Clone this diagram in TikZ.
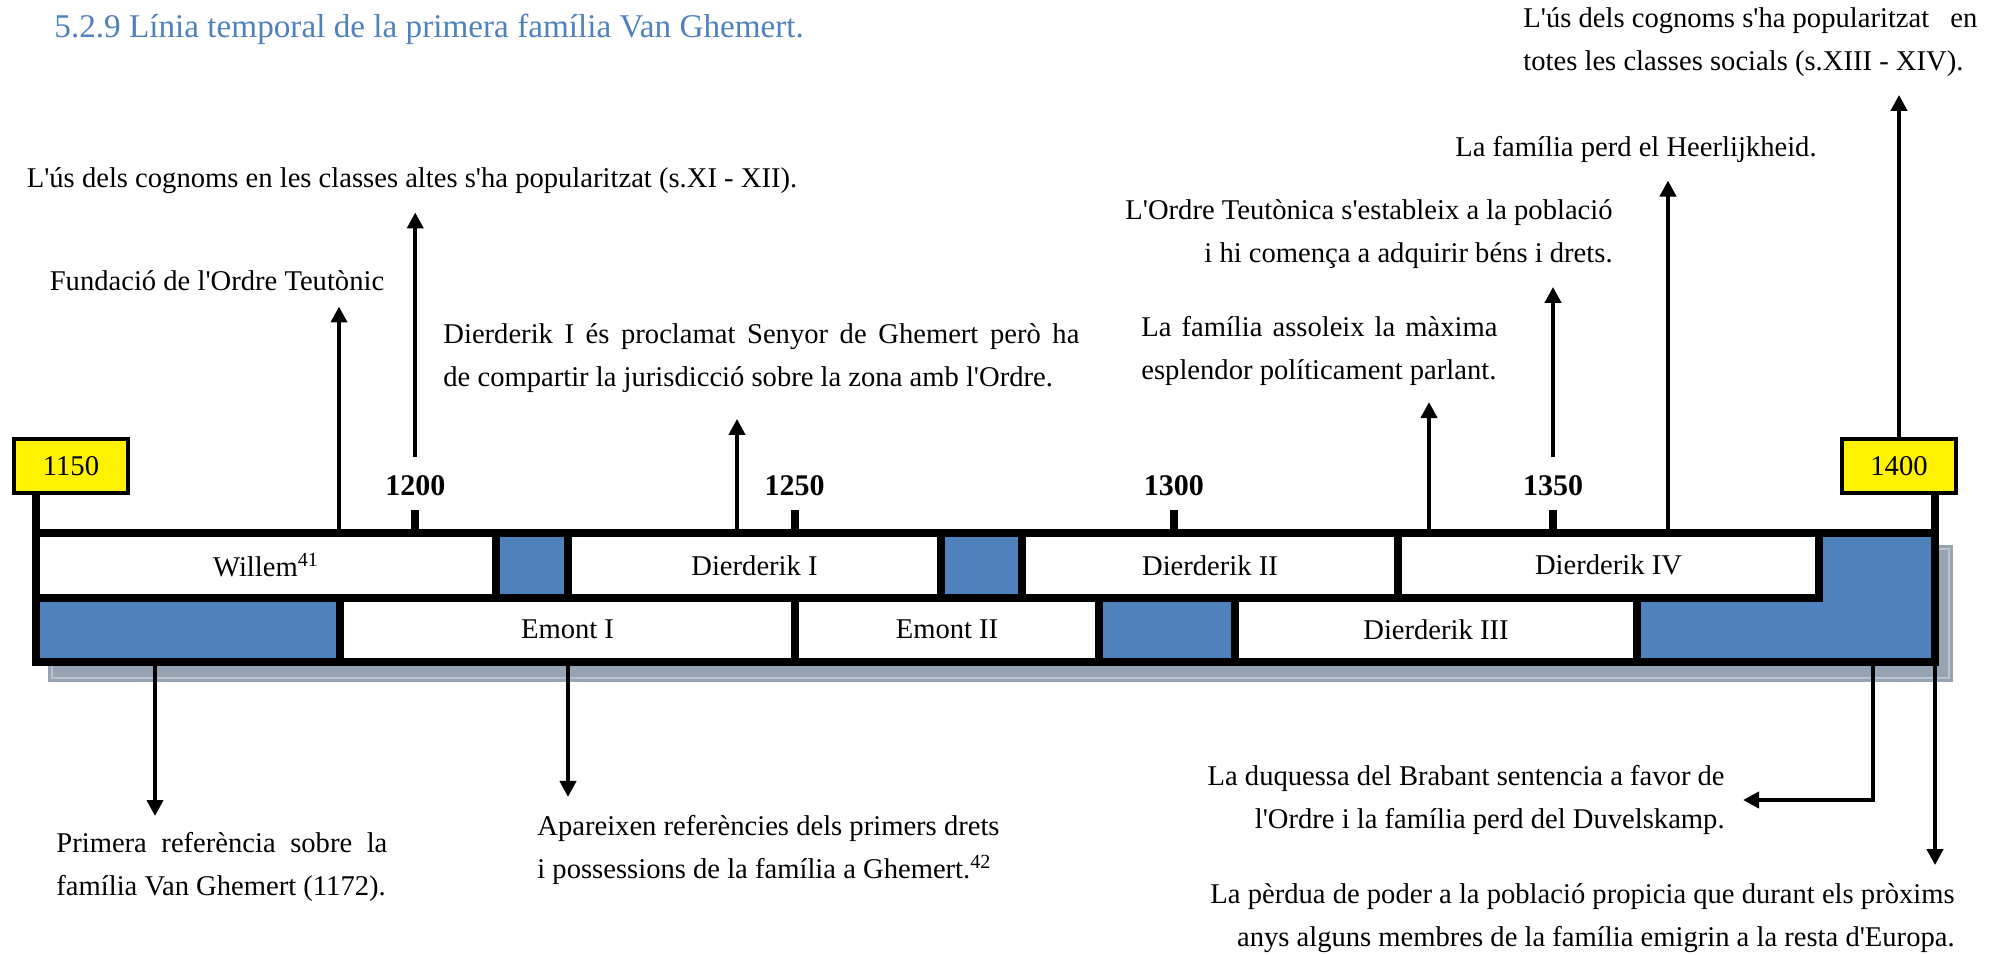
\documentclass[tikz,border=0pt]{standalone}
\usepackage{fontspec}
\setmainfont{Liberation Serif}[Ligatures=TeXOff]
\usepackage{tikz}
\usetikzlibrary{arrows.meta}
\usepackage{xcolor}
\definecolor{cellblue}{RGB}{79,129,189}
\definecolor{shadowgrey}{RGB}{149,163,179}
\newcommand{\evfont}{\fontsize{14.3pt}{21.5pt}\selectfont}

\begin{document}
\begin{tikzpicture}[x=0.5pt, y=-0.5pt,
    ev/.style={inner sep=0pt, font=\evfont},
    arr/.style={line width=2.2pt, shorten >=9pt, -{Triangle[length=8pt,width=8pt]}},
    barline/.style={line width=4pt, line cap=rect},
    yearbox/.style={draw, line width=2pt, fill=yellow, minimum width=57pt, minimum height=27pt, inner sep=0pt, font=\evfont}]
  \useasboundingbox (0,0) rectangle (2003,954);
  \node[anchor=base west, inner sep=0pt, text=cellblue, font=\fontsize{16.6pt}{20pt}\selectfont] (title) at (54,37) {5.2.9 Línia temporal de la primera família Van Ghemert.};

  % bar: shadow, blue ground and white reigns
  \fill[shadowgrey] (48,545) rectangle (1953,682);
  \draw[white!35!shadowgrey, line width=0.6pt] (52,549) rectangle (1949,678);
  \fill[cellblue] (36,533) rectangle (1935,662);
  \foreach \xa/\xb/\ya/\yb/\nm/\txt in {
      36/496/533/597.5/willem/{Willem\textsuperscript{41}},
      568/941/533/597.5/dierI/{Dierderik I},
      1022/1398/533/597.5/dierII/{Dierderik II},
      1398/1819/533/597.5/dierIV/{Dierderik IV},
      340/795/597.5/662/emontI/{Emont I},
      795/1099/597.5/662/emontII/{Emont II},
      1235/1637/597.5/662/dierIII/{Dierderik III}} {
    \fill[white] (\xa,\ya) rectangle (\xb,\yb);
    \node[ev] (\nm) at ({(\xa+\xb)/2},{(\ya+\yb)/2}) {\txt};
  }

  % frame, dividers and ticks
  \coordinate (tl) at (36,533); \coordinate (tr) at (1935,533);
  \coordinate (bl) at (36,662); \coordinate (br) at (1935,662);
  \draw[barline] (tl) -- (tr);
  \draw[barline] (36,597.5) -- (1819,597.5);
  \foreach \x in {496,568,941,1022,1398,1819} \draw[barline] (\x,533) -- (\x,597.5);
  \foreach \x in {340,795,1099,1235,1637} \draw[barline] (\x,597.5) -- (\x,662);
  \foreach \yr in {1200,1250,1300,1350} {
    \pgfmathsetmacro\tx{36+(\yr-1150)*7.585}
    \draw[barline] (\tx,514) -- (\tx,533);
    \node[inner sep=0pt, font=\fontsize{15pt}{18pt}\selectfont\bfseries] (t\yr) at (\tx,486) {\yr};
  }
  \node[yearbox] (y1150) at (71,466) {1150};
  \node[yearbox] (y1400) at (1899,466) {1400};
  \draw[barline, line cap=butt] (y1150.south -| bl) -- (bl) -- (br) -- (y1400.south -| br);

  % events above the bar
  \node[ev] (fundacio) at (217,281) {Fundació de l'Ordre Teutònic};
  \node[ev] (cognA) at (412,181) {L'ús dels cognoms en les classes altes s'ha popularitzat (s.XI - XII).};
  \node[ev, anchor=west, align=left] (proclam) at (443,358) {\makebox[318pt][s]{Dierderik I és proclamat Senyor de Ghemert però ha}\\de compartir la jurisdicció sobre la zona amb l'Ordre.};
  \node[ev, anchor=west, align=left] (maxima) at (1141,351) {\makebox[178pt][s]{La família assoleix la màxima}\\esplendor políticament parlant.};
  \node[ev, anchor=east, align=right] (ordreT) at (1613,234) {L'Ordre Teutònica s'estableix a la població\\i hi comença a adquirir béns i drets.};
  \node[ev, anchor=east] (heerl) at (1817,149) {La família perd el Heerlijkheid.};
  \node[ev, anchor=west, align=left] (cognB) at (1523,42) {\makebox[227pt][l]{L'ús dels cognoms s'ha popularitzat\hfill en}\\totes les classes socials (s.XIII - XIV).};

  % events below the bar
  \node[ev, anchor=west, align=left] (primera) at (56,867) {\makebox[165.5pt][s]{Primera referència sobre la}\\família Van Ghemert (1172).};
  \node[ev, anchor=west, align=left] (aparei) at (537,850) {Apareixen referències dels primers drets\\i possessions de la família a Ghemert.\textsuperscript{42}};
  \node[ev, anchor=east, align=right] (duquessa) at (1725,800) {La duquessa del Brabant sentencia a favor de\\l'Ordre i la família perd del Duvelskamp.};
  \node[ev, anchor=east, align=right] (perdua) at (1955,918) {La pèrdua de poder a la població propicia que durant els pròxims\\anys alguns membres de la família emigrin a la resta d'Europa.};

  \coordinate (ev1190) at (339,533);
  \coordinate (ev1242) at (737,533);
  \coordinate (ev1334) at (1429,533);
  \coordinate (ev1365) at (1668,533);
  \coordinate (ev1166) at (155,662);
  \coordinate (ev1220) at (568,662);
  \coordinate (ev1392) at (1873,662);

  \draw[arr, shorten >=7.5pt] (ev1190) -- (ev1190 |- fundacio.south);
  \draw[arr, shorten <=9pt] (t1200.north) -- (t1200.north |- cognA.south);
  \draw[arr, shorten >=13pt] (ev1242) -- (ev1242 |- proclam.south);
  \draw[arr, shorten >=8pt] (ev1334) -- (ev1334 |- maxima.south);
  \draw[arr, shorten <=9pt] (t1350.north) -- (t1350.north |- ordreT.south);
  \draw[arr] (ev1365) -- (ev1365 |- heerl.south);
  \draw[arr] (y1400.north) -- (y1400.north |- cognB.south);
  % downwards
  \draw[arr, shorten >=8pt] (ev1166) -- (ev1166 |- primera.north);
  \draw[arr] (ev1220) -- (ev1220 |- aparei.north);
  \draw[arr] (ev1392) |- (duquessa.east);
  \draw[arr] (br) -- (br |- perdua.north);
\end{tikzpicture}
\end{document}
